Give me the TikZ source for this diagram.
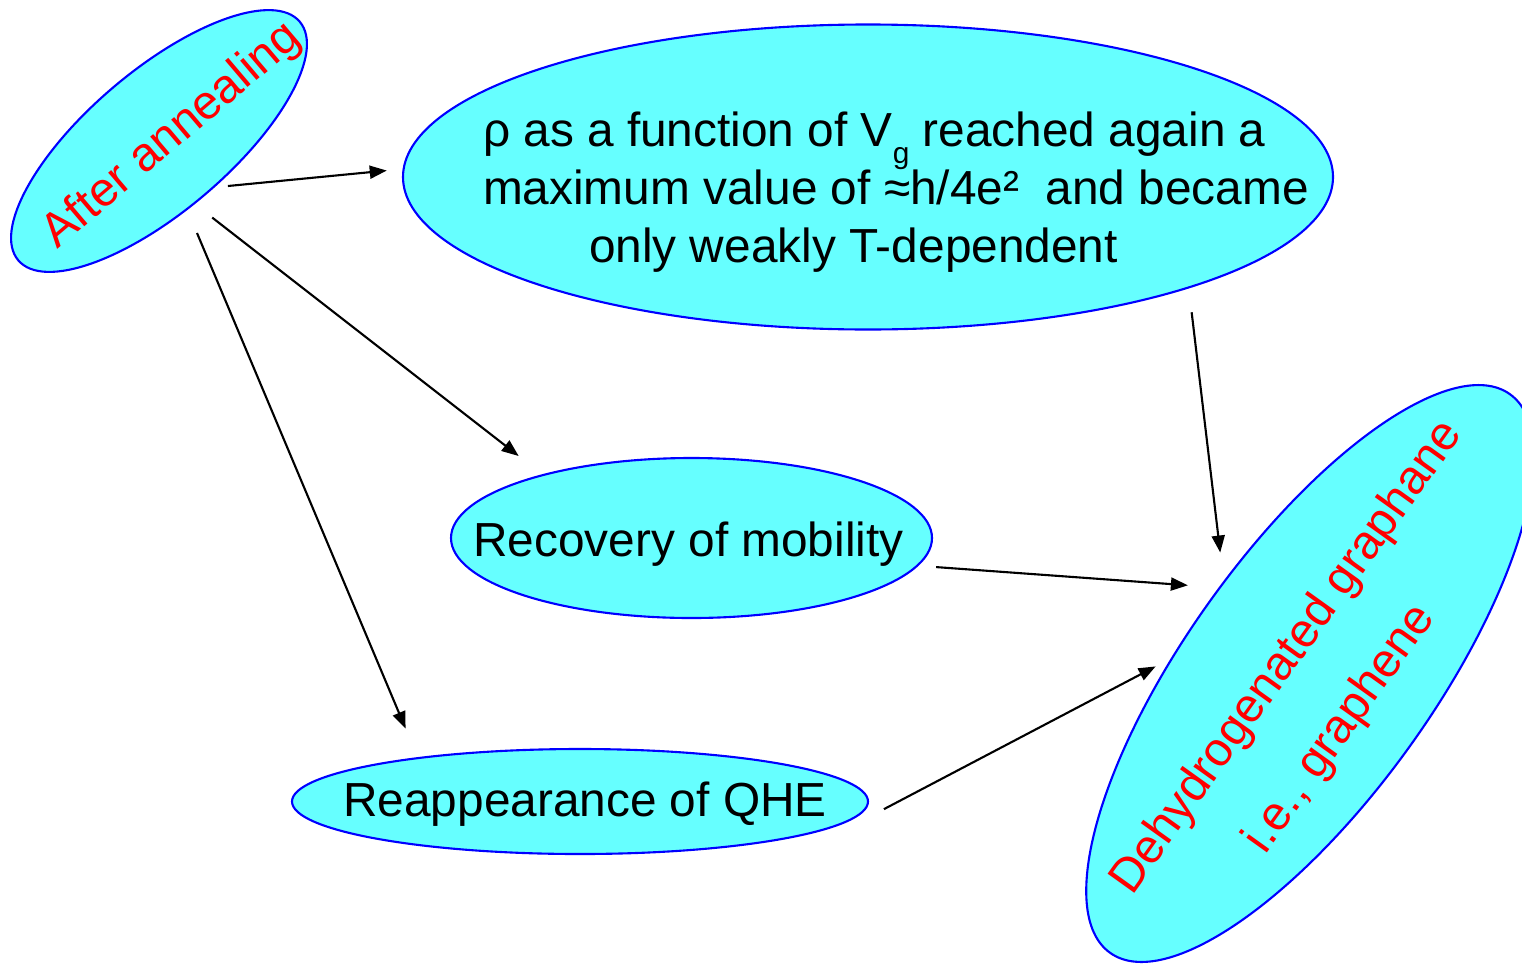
\documentclass[tikz,border=0pt]{standalone}
\usepackage{fontspec}
\setmainfont{Liberation Sans}
\usepackage{tikz}
\usetikzlibrary{shapes.geometric, arrows.meta}
\definecolor{bubblefill}{RGB}{102,255,255}
\definecolor{bubbleline}{RGB}{0,0,255}
\definecolor{labelred}{RGB}{255,0,0}

\begin{document}
\begin{tikzpicture}[
  bubble/.style={ellipse, draw=bubbleline, fill=bubblefill, line width=0.6pt,
                 inner sep=0pt, outer sep=0pt},
  txt/.style={font=\fontsize{13.6pt}{16.5pt}\selectfont, inner sep=0pt, align=center},
  onetxt/.style={txt, text height=0.72em, text depth=0pt},
  redtxt/.style={txt, text=labelred},
  arrow/.style={-{Triangle[length=0.17cm, width=0.13cm]}, line width=0.6pt, color=black}
]
\useasboundingbox (0,0) rectangle (15.22,-9.64);

\node[bubble, minimum width=3.69cm, minimum height=1.41cm, rotate=40.3] (after) at (1.59,-1.41) {};
\node[bubble, minimum width=9.30cm, minimum height=3.05cm] (top)   at (8.68,-1.77)  {};
\node[bubble, minimum width=4.81cm, minimum height=1.60cm] (recov) at (6.915,-5.38) {};
\node[bubble, minimum width=5.76cm, minimum height=1.05cm] (reapp) at (5.80,-8.015) {};
\node[bubble, minimum width=6.87cm, minimum height=2.47cm, rotate=54.4] (dehy) at (13.10,-6.735) {};

\node[redtxt, onetxt, rotate=40.3] (aftertxt) at ([xshift=1.3mm, yshift=0.5mm]after.center) {After annealing};
\node[txt, align=left] (toptxt) at (8.96,-1.92)
  {ρ as a function of V\raisebox{-0.17cm}[0pt][0pt]{\fontsize{8.5pt}{8.5pt}\selectfont g} reached again a\\
   maximum value of ≈h/4e²~ and became\\
   \hspace*{1.06cm}only weakly T-dependent};
\node[onetxt] (recovtxt) at ([xshift=-0.3mm, yshift=-0.6mm]recov.center) {Recovery of mobility};
\node[onetxt] (reapptxt) at ([xshift=0.5mm, yshift=-0.2mm]reapp.center) {Reappearance of QHE};
\node[redtxt, rotate=54.4, font=\fontsize{13.6pt}{24pt}\selectfont] (dehytxt)
  at ([xshift=1.2mm, yshift=-0.9mm]dehy.center)
  {Dehydrogenated graphane\\ i.e., graphene\hspace*{0.54cm}};

\draw[arrow, shorten <=0.15cm, shorten >=0.17cm] (after.-81)    -- (top.179);
\draw[arrow, shorten <=0.23cm, shorten >=0.31cm] (after.-101.3) -- (recov.157.8);
\draw[arrow, shorten <=0.26cm, shorten >=0.32cm] (after.-108.7) -- (reapp.165.3);
\draw[arrow, shorten <=0.25cm, shorten >=0.30cm] (top.-19.6)    -- (dehy.79.5);
\draw[arrow, shorten <=0.19cm, shorten >=0.32cm] (recov.-7.9)   -- (dehy.82.3);
\draw[arrow, shorten <=0.18cm, shorten >=0.19cm] ([yshift=-1.6mm]reapp.east) -- (dehy.119.2);

\end{tikzpicture}
\end{document}
